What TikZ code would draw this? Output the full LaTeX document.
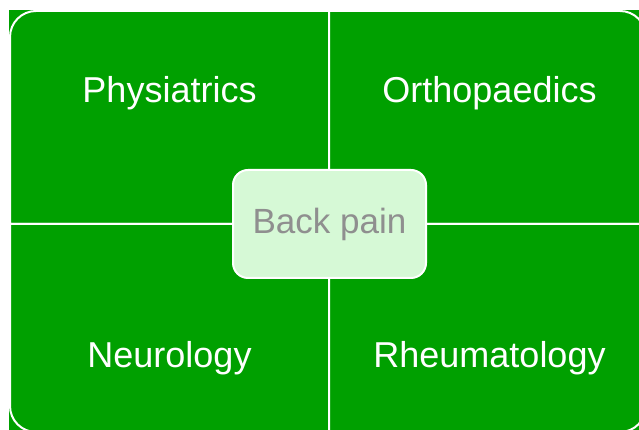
\documentclass[tikz,border=0pt]{standalone}
\usepackage{fontspec}
\setmainfont{Liberation Sans}
\definecolor{matgreen}{HTML}{00A000}
\definecolor{hubfill}{HTML}{D6F9D6}
\definecolor{hubtext}{HTML}{8F8F8F}
\begin{document}
\begin{tikzpicture}[
  x=1pt, y=1pt,
  quad/.style={draw=white, line width=2pt, fill=matgreen},
  lbl/.style={anchor=base, text=white, font=\fontsize{36}{40}\selectfont},
  hub/.style={rectangle, draw=white, line width=2pt, fill=hubfill, text=hubtext,
              minimum width=193pt, minimum height=108pt, rounded corners=15pt,
              font=\fontsize{35}{40}\selectfont}
]
  \useasboundingbox (0,0) rectangle (639,430);
  \clip (0,0) rectangle (639,430);
  \fill[matgreen] (9,0) rectangle (639,420);

  % Quadranten
  \draw[quad] (329,206) -- (10,206) -- (10,393) arc[start angle=180, end angle=90, radius=26pt] -- (329,419) -- cycle;
  \draw[quad] (329,206) -- (329,419) -- (620,419) arc[start angle=90, end angle=0, radius=26pt] -- (646,206) -- cycle;
  \draw[quad] (329,206) -- (10,206) -- (10,24) arc[start angle=180, end angle=270, radius=26pt] -- (329,-2) -- cycle;
  \draw[quad] (329,206) -- (646,206) -- (646,24) arc[start angle=0, end angle=-90, radius=26pt] -- (329,-2) -- cycle;

  \node[lbl] (physiatrics) at (169.5,327) {Physiatrics};
  \node[lbl] (orthopaedics) at (489.5,327) {Orthopaedics};
  \node[lbl] (neurology) at (169.5,62) {Neurology};
  \node[lbl] (rheumatology) at (489.5,62) {Rheumatology};

  \node[hub] (backpain) at (329.5,206) {Back pain};
\end{tikzpicture}
\end{document}
